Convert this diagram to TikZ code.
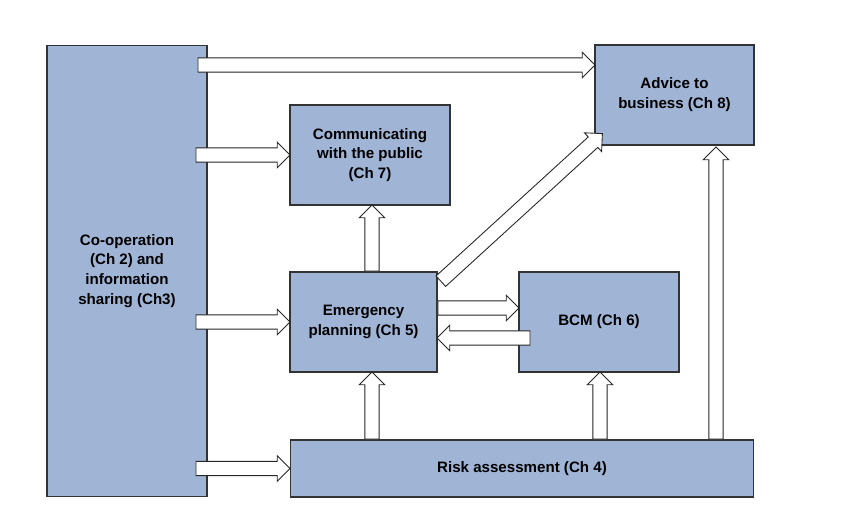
\documentclass[tikz,border=0pt]{standalone}
\usepackage{fontspec}
\setmainfont{Liberation Sans}
\usetikzlibrary{shapes.arrows,calc}
\definecolor{box_blue}{RGB}{160,180,214}
\tikzset{
  blk/.style={rectangle,fill=box_blue,draw=black!80,line width=0.6pt,
    align=center,font=\fontsize{8.6}{11.3}\selectfont\bfseries,inner sep=2pt},
  harrow/.style={single arrow,draw=black!85,fill=white,line width=0.5pt,
    inner sep=2.6pt,single arrow head extend=3.2pt,single arrow head indent=0pt,
    minimum width=0.42cm,shape border uses incircle}
}
\newcommand{\hollow}[2]{%
  \path let \p1=(#1), \p2=(#2), \n1={atan2(\y2-\y1,\x2-\x1)},
    \n2={veclen(\x2-\x1,\y2-\y1)} in
    node[harrow,minimum height=\n2,rotate=\n1,anchor=tail] at (\p1) {};}
\begin{document}
\begin{tikzpicture}[x=0.02cm,y=-0.02cm]
    \useasboundingbox (0,0) rectangle (846,522);
    \node [blk,minimum width=3.2cm,minimum height=9.04cm] (coop) at (127,271)
      {Co-operation\\(Ch 2) and\\information\\sharing (Ch3)};
    \node [blk,minimum width=3.18cm,minimum height=2cm] (adv) at (674.5,95)
      {Advice to\\business (Ch 8)};
    \node [blk,minimum width=3.2cm,minimum height=2cm] (comm) at (370,155)
      {Communicating\\with the public\\(Ch 7)};
    \node [blk,minimum width=2.94cm,minimum height=2cm] (emer) at (363.5,322)
      {Emergency\\planning (Ch 5)};
    \node [blk,minimum width=3.2cm,minimum height=2cm] (bcm) at (599,322)
      {BCM (Ch 6)};
    \node [blk,minimum width=9.28cm,minimum height=1.14cm] (risk) at (522,468.5)
      {Risk assessment (Ch 4)};
    % arrows out of co-operation
    \hollow{$(coop.east |- 0,65)+(-10,0)$}{adv.west |- 0,65}
    \hollow{$(coop.east |- comm.west)+(-12,0)$}{comm.west}
    \hollow{$(coop.east |- emer.west)+(-12,0)$}{emer.west}
    \hollow{$(coop.east |- risk.west)+(-12,0)$}{risk.west}
    % emergency planning
    \hollow{emer.north -| 372,0}{comm.south -| 372,0}
    \hollow{$(emer.east)+(0,-14)$}{$(bcm.west)+(0,-14)$}
    \hollow{$(bcm.west)+(12,16)$}{$(emer.east)+(0,16)$}
    \hollow{$(emer.north east)+(3,10)$}{$(adv.south west)+(8,-12)$}
    % risk assessment
    \hollow{risk.north -| 372,0}{emer.south -| 372,0}
    \hollow{risk.north -| 600,0}{bcm.south -| 600,0}
    \hollow{risk.north -| 716,0}{$(adv.south -| 716,0)+(0,2)$}
\end{tikzpicture}
\end{document}
